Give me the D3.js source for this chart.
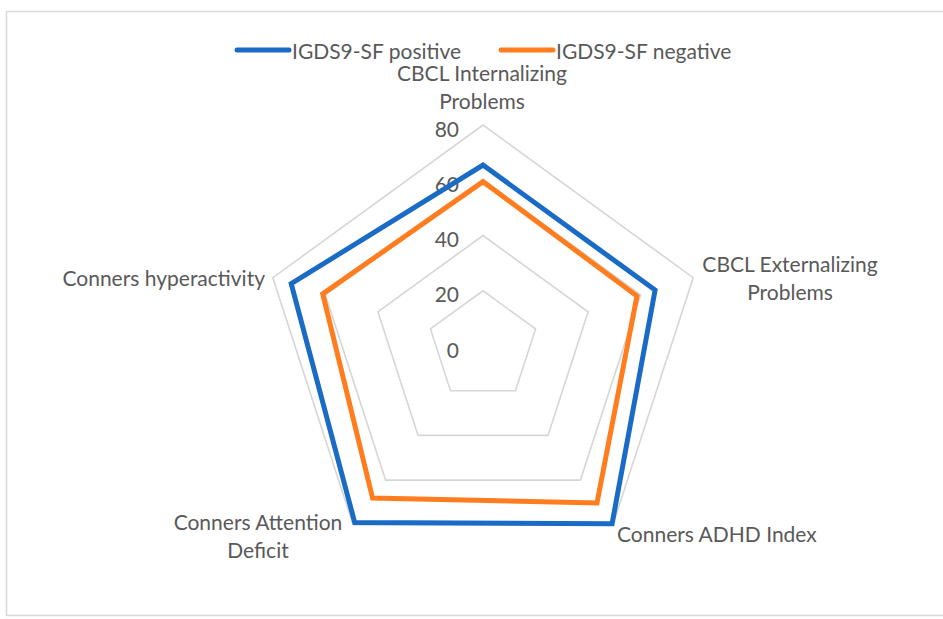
<!DOCTYPE html>
<html>
<head>
<meta charset="utf-8">
<script src="https://cdn.jsdelivr.net/npm/d3@7"></script>
<style>
  html, body { margin: 0; padding: 0; background: #ffffff; }
  svg { display: block; }
  text { font-family: Lato, "Open Sans", sans-serif; fill: #595959; }
</style>
</head>
<body>
<svg id="chart" width="943" height="619"></svg>
<script>
// ---- data ----
const categories = [
  ["CBCL Internalizing", "Problems"],
  ["CBCL Externalizing", "Problems"],
  ["Conners ADHD Index"],
  ["Conners Attention", "Deficit"],
  ["Conners hyperactivity"]
];
const seriesNames = ["IGDS9-SF positive", "IGDS9-SF negative"];
const positiveValues = [65.5, 65.5, 79.5, 79, 73];
const negativeValues = [59.5, 58.6, 70.2, 68, 61];
const tickValues = [0, 20, 40, 60, 80];
const seriesColors = ["#1a6bc6", "#ff7d1f"];

// ---- layout ----
const svg = d3.select("#chart");
const cx = 483, cy = 346, R = 221;
const n = categories.length;
const r = d3.scaleLinear().domain([0, 80]).range([0, R]);
const angle = d3.scaleLinear().domain([0, n]).range([0, 2 * Math.PI]);
const fs = "21px";

// frame
svg.append("rect").attr("x", 6.5).attr("y", 11.5).attr("width", 960).attr("height", 604)
  .attr("fill", "none").attr("stroke", "#d9d9d9").attr("stroke-width", 1.5);

const g = svg.append("g").attr("transform", `translate(${cx},${cy})`);

const radial = d3.lineRadial()
  .angle((d, i) => angle(i))
  .radius(d => r(d))
  .curve(d3.curveLinearClosed);

// grid rings (skip 0)
tickValues.filter(t => t > 0).forEach(t => {
  g.append("path")
    .attr("d", radial(d3.range(n).map(() => t)))
    .attr("fill", "none")
    .attr("stroke", "#d6d6d6")
    .attr("stroke-width", 1.6);
});

// tick labels
g.selectAll("text.tick").data(tickValues).join("text")
  .attr("class", "tick")
  .attr("x", -24)
  .attr("y", d => -r(d) + 3)
  .attr("text-anchor", "end")
  .attr("dominant-baseline", "central")
  .style("font-size", fs)
  .text(d => d);

// series
const allSeries = [positiveValues, negativeValues];
allSeries.forEach((vals, si) => {
  g.append("path")
    .attr("d", radial(vals))
    .attr("fill", "none")
    .attr("stroke", seriesColors[si])
    .attr("stroke-width", 5)
    .attr("stroke-linejoin", "miter");
});

// category labels
const labelPos = [
  { x: 482, y: 72, anchor: "middle" },
  { x: 790, y: 263, anchor: "middle" },
  { x: 617, y: 533, anchor: "start" },
  { x: 258, y: 521, anchor: "middle" },
  { x: 265, y: 277, anchor: "end" }
];
categories.forEach((lines, i) => {
  const p = labelPos[i];
  const t = svg.append("text")
    .attr("x", p.x).attr("y", p.y)
    .attr("text-anchor", p.anchor)
    .attr("dominant-baseline", "central")
    .style("font-size", fs);
  lines.forEach((ln, j) => {
    t.append("tspan").attr("x", p.x).attr("dy", j === 0 ? 0 : 27.5).text(ln);
  });
});

// legend
const legendItems = [
  { x: 237, name: seriesNames[0], color: seriesColors[0] },
  { x: 501, name: seriesNames[1], color: seriesColors[1] }
];
legendItems.forEach(it => {
  svg.append("line")
    .attr("x1", it.x).attr("x2", it.x + 52)
    .attr("y1", 50).attr("y2", 50)
    .attr("stroke", it.color).attr("stroke-width", 5).attr("stroke-linecap", "round");
  svg.append("text")
    .attr("x", it.x + 55).attr("y", 50)
    .attr("dominant-baseline", "central")
    .style("font-size", fs)
    .text(it.name);
});
</script>
</body>
</html>
